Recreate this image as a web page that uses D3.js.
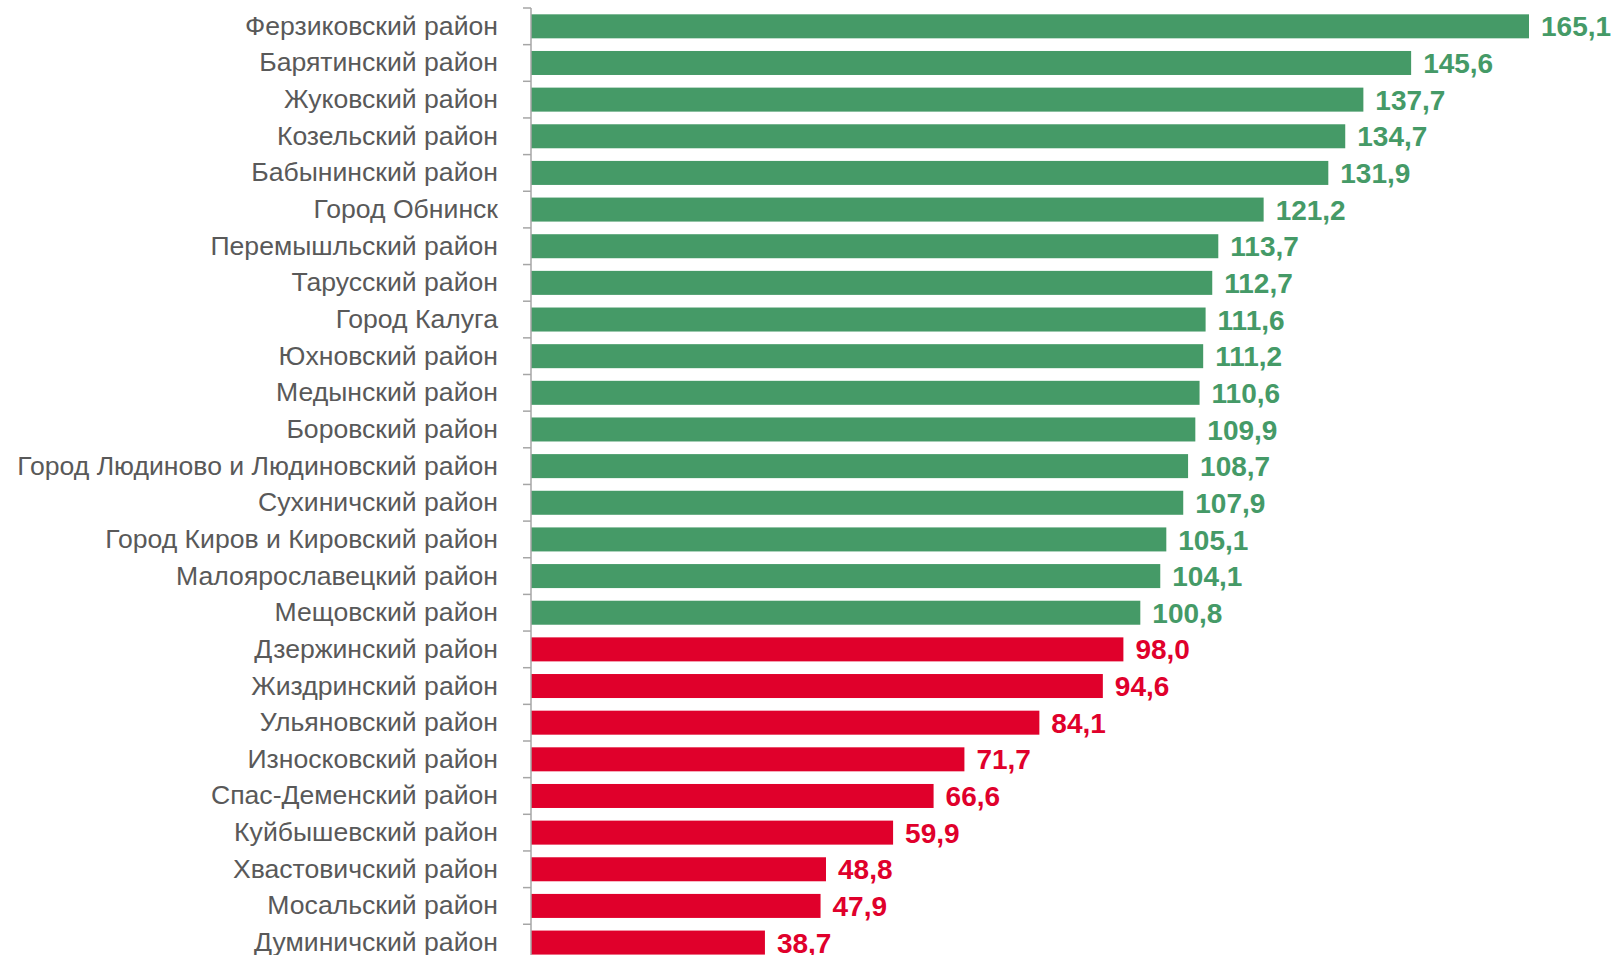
<!DOCTYPE html>
<html>
<head>
<meta charset="utf-8">
<script src="https://cdn.jsdelivr.net/npm/d3@7"></script>
<style>
  body { margin: 0; background: #fff; }
  svg { display: block; font-family: "Liberation Sans", Arial, sans-serif; }
</style>
</head>
<body>
<svg id="chart"></svg>
<script>
// ---------------- data ----------------
var districts = [
  'Ферзиковский район', 'Барятинский район', 'Жуковский район', 'Козельский район',
  'Бабынинский район', 'Город Обнинск', 'Перемышльский район', 'Тарусский район',
  'Город Калуга', 'Юхновский район', 'Медынский район', 'Боровский район',
  'Город Людиново и Людиновский район', 'Сухиничский район', 'Город Киров и Кировский район',
  'Малоярославецкий район', 'Мещовский район', 'Дзержинский район', 'Жиздринский район',
  'Ульяновский район', 'Износковский район', 'Спас-Деменский район', 'Куйбышевский район',
  'Хвастовичский район', 'Мосальский район', 'Думиничский район'
];
var values = [
  165.1, 145.6, 137.7, 134.7, 131.9, 121.2, 113.7, 112.7, 111.6, 111.2, 110.6, 109.9,
  108.7, 107.9, 105.1, 104.1, 100.8, 98.0, 94.6, 84.1, 71.7, 66.6, 59.9, 48.8, 47.9, 38.7
];

var data = districts.map(function(d, i) { return { name: d, value: values[i] }; });

// ---------------- layout ----------------
var width = 1611;
var height = 955;
var axisX = 531;
var topY = 8;
var step = 36.65;

var green = '#459a67';
var red = '#e0002b';

var svg = d3.select('#chart')
            .attr('width', width)
            .attr('height', height);

var xScale = d3.scaleLinear()
               .domain([0, 165.1])
               .range([axisX, 1529]);

var yScale = d3.scaleBand()
               .domain(districts)
               .range([topY, topY + step * districts.length])
               .paddingInner(0.345)
               .paddingOuter(0.1725);

var color = d => d.value >= 100 ? green : red;

// bars
svg.selectAll('rect.bar')
   .data(data)
   .enter()
   .append('rect')
     .classed('bar', true)
     .attr('x', xScale(0))
     .attr('y', d => yScale(d.name))
     .attr('width', d => xScale(d.value) - xScale(0))
     .attr('height', yScale.bandwidth())
     .attr('fill', color);

// value labels
svg.selectAll('text.val')
   .data(data)
   .enter()
   .append('text')
     .classed('val', true)
     .attr('x', d => xScale(d.value) + 12)
     .attr('y', d => yScale(d.name) + yScale.bandwidth() / 2)
     .attr('dy', '0.36em')
     .attr('font-size', '28px')
     .attr('font-weight', 'bold')
     .attr('fill', color)
     .text(d => d3.format('.1f')(d.value).replace('.', ','));

// category axis (labels only)
var yAxis = svg.append('g')
   .attr('transform', `translate(${axisX}, 0)`)
   .call(d3.axisLeft(yScale).tickSize(0).tickPadding(33));

yAxis.select('.domain').remove();
yAxis.selectAll('text')
     .attr('font-size', '26.6px')
     .attr('font-family', '"Liberation Sans", Arial, sans-serif')
     .attr('fill', '#595959');

// axis line and ticks at category boundaries
var bounds = d3.range(districts.length + 1).map(i => yScale.range()[0] + i * yScale.step());

svg.append('line')
   .attr('x1', axisX).attr('x2', axisX)
   .attr('y1', bounds[0]).attr('y2', bounds[bounds.length - 1])
   .attr('stroke', '#a6a6a6')
   .attr('stroke-width', 1.5);

svg.selectAll('line.tick')
   .data(bounds)
   .enter()
   .append('line')
     .classed('tick', true)
     .attr('x1', axisX - 8).attr('x2', axisX)
     .attr('y1', d => d).attr('y2', d => d)
     .attr('stroke', '#a6a6a6')
     .attr('stroke-width', 1.5);
</script>
</body>
</html>
